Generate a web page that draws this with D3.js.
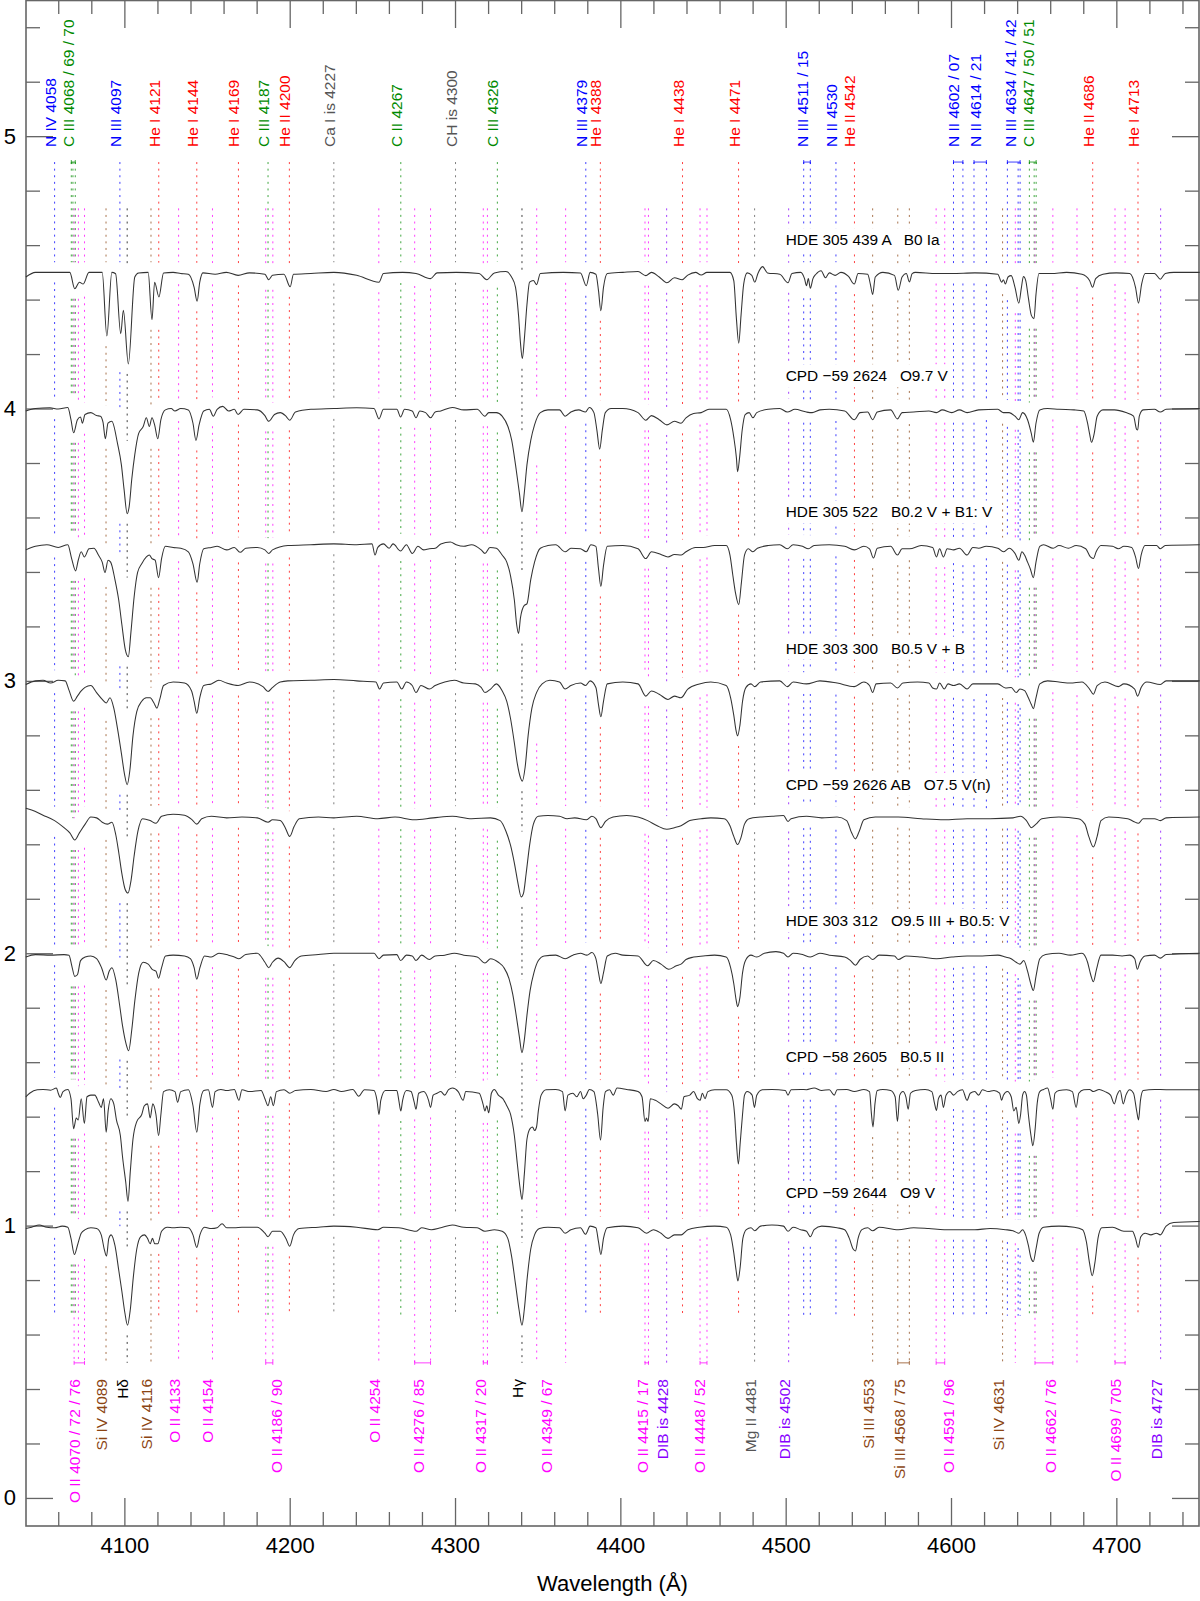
<!DOCTYPE html>
<html><head><meta charset="utf-8">
<script src="https://cdn.jsdelivr.net/npm/d3@7"></script>
<style>
body{margin:0;background:#fff}
svg{display:block}
text{font-family:"Liberation Sans",Arial,Helvetica,sans-serif}
</style>
</head><body>
<svg id="chart" width="1200" height="1601"></svg>
<script>
// ---------------- DATA ----------------
const starLabels = [
  "HDE 305 439 A   B0 Ia",
  "CPD \u221259 2624   O9.7 V",
  "HDE 305 522   B0.2 V + B1: V",
  "HDE 303 300   B0.5 V + B",
  "CPD \u221259 2626 AB   O7.5 V(n)",
  "HDE 303 312   O9.5 III + B0.5: V",
  "CPD \u221258 2605   B0.5 II",
  "CPD \u221259 2644   O9 V"
];
const offsets = [3.5, 3.0, 2.5, 2.0, 1.5, 1.0, 0.5, 0.0];

const spec1 = [[4040.4,0.983],[4046.2,1.0],[4060,1.0],[4067,1.0],[4070,0.94],[4072.8,0.964],[4075.1,0.957],[4078.6,1.0],[4086.6,1.0],[4089.4,0.766],[4092.4,1.0],[4094.7,0.995],[4097.8,0.775],[4099.4,0.861],[4102.4,0.664],[4106.3,0.983],[4108.6,0.998],[4114.4,1.0],[4116.7,0.826],[4118.3,0.964],[4120.9,0.91],[4123.7,0.998],[4129.5,1.0],[4134.1,0.996],[4138.7,0.993],[4142.2,0.945],[4144.0,0.894],[4145.6,0.964],[4147.5,0.998],[4154.9,0.993],[4161.7,1.0],[4168.8,0.989],[4175.7,0.998],[4185.0,0.993],[4187.3,0.973],[4189.6,0.989],[4196.5,0.993],[4200.3,0.947],[4202.3,0.993],[4212.8,0.996],[4226.7,1.0],[4240.5,0.989],[4254.0,0.964],[4256.7,0.996],[4268.3,1.0],[4276.4,0.996],[4285.2,0.977],[4289.1,0.998],[4300.7,1.0],[4314.6,0.996],[4319.2,0.973],[4323.8,0.998],[4330.8,1.003],[4334.2,0.983],[4336.6,0.945],[4338.4,0.843],[4339.6,0.74],[4340.7,0.683],[4341.9,0.753],[4343.5,0.881],[4345.1,0.964],[4347.4,0.970],[4349.3,0.955],[4351.6,0.996],[4365.5,1.0],[4375.9,0.998],[4379.4,0.951],[4381.7,1.0],[4385.2,0.993],[4386.8,0.932],[4388.2,0.859],[4389.8,0.945],[4392.1,0.996],[4401.5,1.0],[4410.7,1.003],[4415.4,0.988],[4418.8,1.0],[4423.5,0.983],[4428.1,0.962],[4432.7,0.98],[4437.4,0.973],[4440.8,0.99],[4445.5,1.0],[4448.9,0.99],[4452.4,1.0],[4466.3,1.0],[4468.6,0.97],[4470.2,0.83],[4471.6,0.74],[4473.0,0.842],[4474.6,0.957],[4476.7,0.998],[4479.5,0.989],[4481.3,0.964],[4483.2,0.996],[4486.0,1.021],[4489.0,0.998],[4496.4,0.993],[4501.4,0.962],[4503.8,0.996],[4509.1,1.0],[4511.4,0.977],[4512.6,0.951],[4513.7,0.977],[4514.9,0.942],[4516.5,0.977],[4518.3,0.993],[4521.4,1.006],[4524.1,0.98],[4526.4,0.998],[4529.9,0.989],[4533.4,1.0],[4538.0,0.985],[4541.5,0.957],[4543.8,0.996],[4549.6,0.993],[4551.2,0.957],[4552.6,0.919],[4554.2,0.983],[4558.8,1.0],[4565.8,0.989],[4568.1,0.934],[4570.4,0.983],[4573.0,0.996],[4574.8,0.965],[4576.5,0.995],[4578.5,1.0],[4591.2,0.996],[4600.5,0.996],[4614.4,0.998],[4628.3,0.993],[4630.6,0.964],[4631.7,0.973],[4632.9,0.957],[4634.5,0.983],[4636.4,0.988],[4638.7,0.945],[4641.0,0.887],[4642.6,0.945],[4643.8,0.985],[4645.2,0.97],[4646.8,0.906],[4648.6,0.842],[4650.2,0.830],[4651.4,0.919],[4653.2,0.996],[4660.7,0.996],[4669.9,1.0],[4679.2,0.993],[4683.8,0.97],[4685.6,0.945],[4687.5,0.977],[4691.9,0.993],[4700.0,0.998],[4708.1,0.996],[4711.6,0.945],[4713.4,0.887],[4715.3,0.957],[4717.4,0.996],[4723.1,0.996],[4726.6,0.975],[4729.6,0.996],[4734.7,1.0],[4750.4,1.0]];

const spec2 = [[4040.4,0.991],[4046.2,1.0],[4055,1.003],[4060,0.998],[4065.8,1.004],[4067.7,0.959],[4069.3,0.911],[4071.6,0.959],[4073.5,0.969],[4074.6,0.946],[4076.2,0.978],[4079.7,0.985],[4083.2,0.974],[4085.5,0.972],[4087.1,0.949],[4088.5,0.889],[4090.1,0.946],[4092.4,0.953],[4095.9,0.87],[4098.2,0.793],[4099.8,0.704],[4101.7,0.614],[4102.9,0.64],[4104.5,0.742],[4106.3,0.831],[4108.6,0.908],[4111.4,0.934],[4113.3,0.966],[4115.1,0.934],[4116.7,0.966],[4118.3,0.94],[4120.2,0.889],[4122.1,0.959],[4124.8,0.995],[4128.3,1.0],[4130.6,0.991],[4134.1,1.0],[4138.7,0.995],[4141.5,0.946],[4143.3,0.883],[4145.2,0.94],[4148.0,0.991],[4151.4,0.997],[4153.8,0.972],[4156.1,0.997],[4159.5,1.008],[4163.0,0.991],[4166.5,0.997],[4168.8,0.978],[4172.3,0.997],[4180.4,0.995],[4185.0,0.974],[4187.3,0.953],[4190.8,0.978],[4194.3,0.985],[4197.7,0.972],[4200.0,0.957],[4203.5,0.987],[4212.8,0.997],[4226.7,1.0],[4240.5,1.003],[4251.0,1.0],[4254.0,0.962],[4256.7,0.997],[4264.8,0.997],[4267.1,0.969],[4269.5,0.997],[4274.1,0.991],[4276.4,0.966],[4278.7,0.991],[4282.2,0.985],[4285.2,0.966],[4288.0,0.987],[4291.4,0.991],[4298.4,1.004],[4305.3,0.995],[4313.4,0.997],[4318.1,0.972],[4320.4,0.985],[4325.0,0.985],[4328.5,0.972],[4332.0,0.934],[4334.3,0.883],[4336.6,0.793],[4338.9,0.691],[4340.5,0.621],[4341.9,0.691],[4343.5,0.793],[4345.8,0.883],[4348.1,0.94],[4351.6,0.985],[4356.2,0.995],[4363.2,0.995],[4366.6,0.972],[4370.1,0.987],[4374.8,0.995],[4378.9,0.987],[4381.2,1.004],[4384.0,0.985],[4385.8,0.921],[4387.5,0.851],[4389.1,0.921],[4390.9,0.985],[4394.4,1.0],[4401.5,1.0],[4410.7,0.985],[4415.4,0.957],[4418.8,0.974],[4423.5,0.959],[4428.1,0.94],[4432.7,0.953],[4436.7,0.946],[4439.7,0.966],[4444.3,0.982],[4448.9,0.985],[4453.6,0.997],[4464.0,0.997],[4466.7,0.959],[4468.6,0.895],[4470.2,0.819],[4470.9,0.768],[4472.1,0.819],[4473.7,0.921],[4475.5,0.978],[4477.9,0.985],[4480.2,0.966],[4482.5,0.985],[4489.4,0.997],[4496.4,1.0],[4501.0,0.987],[4505.6,0.997],[4512.6,0.987],[4516.0,0.985],[4520.7,0.995],[4526.4,0.997],[4535.7,0.991],[4541.5,0.959],[4545.0,0.985],[4549.6,0.987],[4552.6,0.959],[4555.4,0.987],[4563.5,0.995],[4567.6,0.962],[4570.4,0.985],[4577.4,0.987],[4586.6,0.991],[4591.2,0.985],[4594.7,0.995],[4600.5,0.985],[4605.1,0.995],[4609.7,0.985],[4616.7,0.995],[4628.3,0.997],[4631.7,0.985],[4635.2,0.985],[4638.7,0.972],[4641.0,0.959],[4643.3,0.985],[4646.3,0.959],[4648.6,0.908],[4649.8,0.876],[4651.4,0.946],[4653.7,0.995],[4658.4,1.0],[4665.3,0.997],[4674.5,0.995],[4680.3,0.991],[4682.6,0.946],[4683.8,0.908],[4685.0,0.876],[4686.6,0.908],[4688.4,0.972],[4691.9,0.995],[4698.8,0.995],[4705.8,0.985],[4710.4,0.972],[4712.3,0.923],[4712.9,0.921],[4713.9,0.972],[4716.2,0.995],[4723.1,0.997],[4726.6,0.987],[4730.1,0.997],[4750.4,1.0]];

const spec3 = [[4040.4,0.981],[4046.2,0.994],[4053.1,1.0],[4060.0,0.99],[4065.8,1.0],[4068.1,0.949],[4070.5,0.904],[4072.1,0.943],[4073.9,0.974],[4075.8,0.955],[4078.6,0.985],[4081.6,0.987],[4084.3,0.962],[4086.6,0.936],[4088.3,0.898],[4090.1,0.943],[4091.7,0.936],[4094.3,0.872],[4096.6,0.796],[4098.5,0.706],[4100.5,0.617],[4102.4,0.589],[4104.0,0.681],[4105.9,0.808],[4108.0,0.898],[4110.5,0.93],[4113.3,0.955],[4115.1,0.962],[4116.7,0.949],[4118.6,0.943],[4120.7,0.879],[4122.5,0.949],[4124.8,0.994],[4129.5,0.99],[4134.1,0.987],[4138.7,0.974],[4141.5,0.93],[4144.0,0.862],[4145.6,0.93],[4148.0,0.985],[4152.6,0.99],[4156.1,0.994],[4161.9,0.981],[4166.5,0.99],[4170.0,0.972],[4173.4,0.987],[4180.4,0.99],[4185.0,0.981],[4187.3,0.968],[4189.6,0.981],[4198.9,0.997],[4212.8,1.0],[4226.7,1.003],[4240.5,1.0],[4249.8,1.003],[4251.6,0.962],[4253.3,0.99],[4256.7,1.003],[4260.2,0.987],[4262.5,1.003],[4267.1,0.977],[4270.6,1.0],[4274.1,0.968],[4277.6,0.994],[4281.0,0.981],[4284.5,0.985],[4288.0,0.987],[4291.4,1.003],[4297.2,1.01],[4300.7,1.0],[4305.3,0.994],[4310.0,1.0],[4315.8,0.981],[4318.1,0.968],[4321.1,0.99],[4325.0,0.987],[4328.5,0.962],[4331.3,0.936],[4333.6,0.885],[4335.9,0.796],[4337.3,0.706],[4338.4,0.674],[4339.6,0.732],[4341.9,0.777],[4343.5,0.783],[4345.8,0.872],[4348.1,0.936],[4351.6,0.987],[4356.2,0.997],[4360.9,1.0],[4366.6,0.974],[4370.1,0.987],[4375.9,0.985],[4379.4,0.974],[4382.2,1.0],[4385.2,0.994],[4386.8,0.911],[4388.2,0.847],[4389.8,0.923],[4392.1,0.994],[4401.5,0.997],[4410.7,0.985],[4415.4,0.949],[4418.8,0.974],[4424.6,0.964],[4428.8,0.955],[4432.7,0.964],[4436.9,0.962],[4439.7,0.974],[4445.5,0.99],[4450.1,0.99],[4457.0,0.997],[4464.0,0.997],[4466.3,0.962],[4468.1,0.885],[4469.7,0.821],[4471.6,0.78],[4473.2,0.86],[4475.1,0.962],[4477.4,0.985],[4480.2,0.974],[4482.9,0.987],[4489.4,0.997],[4496.4,1.0],[4501.0,0.985],[4504.5,1.0],[4510.2,0.994],[4513.7,0.985],[4517.2,0.997],[4526.4,1.0],[4535.7,0.994],[4541.5,0.981],[4547.3,0.994],[4550.7,0.985],[4553.1,0.951],[4555.4,0.987],[4563.5,0.994],[4567.6,0.962],[4570.4,0.985],[4575.0,0.985],[4582.0,0.997],[4588.9,0.99],[4591.2,0.955],[4593.1,0.985],[4595.4,0.955],[4597.7,0.985],[4601.6,0.981],[4605.1,0.987],[4609.7,0.962],[4613.2,0.99],[4616.7,0.987],[4621.3,0.994],[4628.3,0.987],[4631.7,0.974],[4635.2,0.987],[4638.7,0.968],[4641.0,0.943],[4642.9,0.974],[4644.5,0.962],[4646.3,0.936],[4648.0,0.911],[4649.8,0.879],[4651.4,0.936],[4653.7,0.994],[4656.0,1.0],[4661.8,0.987],[4665.3,0.997],[4671.0,0.987],[4675.7,0.997],[4681.5,0.985],[4684.3,0.955],[4686.1,0.949],[4687.8,0.974],[4690.7,0.997],[4697.7,0.994],[4701.2,0.985],[4704.6,0.994],[4709.3,0.99],[4711.6,0.955],[4713.4,0.913],[4715.0,0.962],[4717.4,0.997],[4724.3,0.997],[4726.6,0.985],[4729.6,0.997],[4750.4,1.0]];

const spec4 = [[4040.4,0.987],[4046.2,1.0],[4050.8,1.002],[4055.4,0.992],[4060.0,1.002],[4064.2,1.0],[4066.5,0.966],[4069.3,0.925],[4071.6,0.944],[4073.9,0.963],[4076.2,0.976],[4079.7,0.983],[4083.2,0.957],[4086.6,0.932],[4089.0,0.919],[4091.3,0.938],[4093.6,0.9],[4095.9,0.823],[4098.2,0.734],[4100.1,0.657],[4101.7,0.619],[4103.3,0.67],[4105.2,0.798],[4107.5,0.887],[4110.5,0.925],[4113.3,0.938],[4115.6,0.938],[4117.9,0.919],[4119.7,0.9],[4121.4,0.932],[4123.7,0.983],[4129.5,0.996],[4136.4,0.992],[4140.6,0.964],[4142.2,0.925],[4143.8,0.881],[4145.6,0.938],[4148.0,0.983],[4152.6,0.989],[4157.2,1.002],[4161.9,0.992],[4168.8,0.983],[4175.7,0.996],[4183.8,0.979],[4186.9,0.961],[4189.6,0.976],[4194.3,0.996],[4198.9,1.0],[4212.8,1.002],[4226.7,1.005],[4240.5,1.0],[4252.1,0.996],[4254.4,0.97],[4256.7,0.992],[4264.8,0.996],[4267.8,0.97],[4270.6,0.996],[4274.1,0.983],[4276.4,0.957],[4279.4,0.983],[4284.5,0.97],[4288.0,0.983],[4293.8,0.996],[4299.6,1.002],[4305.3,0.992],[4312.3,0.989],[4315.8,0.976],[4318.1,0.957],[4321.5,0.97],[4325.0,0.989],[4328.5,0.964],[4331.3,0.925],[4333.6,0.861],[4335.9,0.772],[4337.7,0.695],[4339.6,0.644],[4340.7,0.632],[4342.4,0.683],[4344.2,0.798],[4346.5,0.9],[4349.3,0.957],[4352.7,0.989],[4357.4,1.002],[4363.2,0.996],[4366.6,0.97],[4370.1,0.983],[4375.9,0.992],[4378.9,0.983],[4381.7,1.0],[4385.2,0.976],[4386.8,0.912],[4388.2,0.868],[4389.8,0.925],[4392.1,0.989],[4401.5,0.996],[4410.7,0.989],[4415.4,0.944],[4418.8,0.963],[4423.5,0.951],[4428.8,0.932],[4432.7,0.944],[4436.7,0.938],[4440.8,0.97],[4447.8,0.989],[4454.7,0.996],[4464.0,0.983],[4466.7,0.938],[4468.6,0.874],[4470.0,0.817],[4470.9,0.798],[4472.3,0.836],[4473.9,0.925],[4476.0,0.976],[4479.0,0.989],[4481.3,0.979],[4484.8,0.996],[4496.4,1.0],[4501.0,0.979],[4504.5,0.996],[4512.6,0.989],[4520.7,1.0],[4531.1,0.992],[4541.5,0.979],[4547.3,0.996],[4550.7,0.983],[4552.6,0.957],[4554.7,0.989],[4563.5,0.992],[4567.6,0.974],[4570.9,0.992],[4579.7,0.996],[4586.6,0.992],[4588.9,0.974],[4591.2,0.97],[4593.1,0.992],[4595.9,0.97],[4598.2,0.989],[4601.6,0.983],[4605.1,0.989],[4609.7,0.97],[4613.2,0.989],[4619.0,0.989],[4628.3,0.989],[4632.9,0.974],[4636.4,0.976],[4639.4,0.957],[4641.7,0.97],[4644.5,0.964],[4646.8,0.938],[4648.6,0.913],[4649.8,0.898],[4651.4,0.938],[4653.7,0.989],[4658.4,1.0],[4665.3,0.996],[4672.2,0.992],[4679.2,0.996],[4683.8,0.97],[4686.1,0.951],[4688.4,0.983],[4693.1,0.996],[4701.2,0.979],[4704.6,0.989],[4711.1,0.97],[4712.9,0.944],[4715.0,0.976],[4718.5,0.996],[4726.6,0.987],[4730.1,1.0],[4750.4,1.0]];

const spec5 = [[4040.4,1.032],[4043.9,1.026],[4050.8,1.007],[4057.8,0.987],[4063.5,0.961],[4067.0,0.942],[4070.0,0.916],[4072.8,0.942],[4076.3,0.974],[4079.7,1.0],[4083.2,0.997],[4086.6,0.981],[4089.7,0.974],[4092.5,0.981],[4094.8,0.935],[4096.6,0.87],[4098.5,0.792],[4100.5,0.734],[4102.2,0.721],[4104.0,0.766],[4105.9,0.857],[4108.2,0.948],[4111.0,0.994],[4115.6,0.987],[4119.1,0.977],[4122.5,1.003],[4129.5,1.01],[4136.4,1.007],[4141.0,0.99],[4143.8,0.974],[4146.8,0.994],[4152.6,1.003],[4161.9,0.997],[4171.1,1.0],[4180.4,0.997],[4186.9,0.981],[4189.6,0.99],[4194.3,0.987],[4197.3,0.961],[4200.0,0.929],[4202.6,0.964],[4205.8,0.994],[4217.4,1.0],[4226.7,0.997],[4240.5,1.003],[4253.3,0.994],[4263.7,1.0],[4275.3,0.99],[4286.8,0.997],[4298.4,1.003],[4310.0,0.994],[4321.5,0.997],[4327.3,0.987],[4330.8,0.948],[4333.6,0.896],[4335.9,0.831],[4338.2,0.753],[4340.0,0.707],[4341.4,0.72],[4343.0,0.792],[4345.1,0.896],[4347.4,0.974],[4350.4,1.003],[4356.2,1.006],[4363.2,1.003],[4367.8,0.994],[4372.4,0.997],[4379.4,0.99],[4382.8,1.003],[4385.2,0.994],[4388.2,0.961],[4391.0,0.984],[4395.6,1.0],[4403.8,1.006],[4410.7,1.0],[4416.5,0.987],[4422.3,0.968],[4428.1,0.955],[4432.7,0.961],[4436.7,0.968],[4442.0,0.987],[4448.9,0.994],[4454.7,0.997],[4462.8,0.994],[4466.3,0.968],[4468.6,0.929],[4470.9,0.899],[4472.8,0.922],[4475.1,0.974],[4477.9,0.994],[4484.8,1.0],[4491.7,1.003],[4498.7,1.006],[4501.4,0.984],[4503.3,0.994],[4512.6,1.003],[4521.8,0.997],[4531.1,1.0],[4536.9,0.987],[4539.9,0.942],[4542.2,0.92],[4544.5,0.948],[4547.3,0.99],[4554.2,1.0],[4568.1,1.0],[4582.0,0.994],[4595.9,0.99],[4609.7,0.994],[4623.6,0.994],[4637.5,0.997],[4642.1,1.003],[4645.6,0.987],[4648.6,0.961],[4651.4,0.974],[4654.9,0.994],[4665.3,1.0],[4676.9,0.994],[4681.0,0.974],[4683.3,0.929],[4686.1,0.89],[4688.4,0.929],[4690.7,0.987],[4695.4,1.0],[4706.9,0.994],[4710.4,0.984],[4713.4,0.977],[4716.2,0.994],[4723.1,0.994],[4726.6,0.987],[4730.1,0.997],[4750.4,1.0]];

const spec6 = [[4040.4,0.986],[4046.2,0.995],[4055.4,0.993],[4063.5,0.995],[4066.5,0.993],[4068.2,0.954],[4070.0,0.915],[4071.6,0.921],[4073.5,0.973],[4076.3,0.986],[4079.7,0.99],[4083.2,0.98],[4086.2,0.947],[4089.0,0.902],[4090.8,0.934],[4092.5,0.947],[4094.8,0.902],[4097.1,0.811],[4098.9,0.733],[4101.0,0.668],[4102.6,0.642],[4104.5,0.72],[4106.3,0.824],[4108.7,0.928],[4111.4,0.967],[4114.4,0.96],[4116.8,0.941],[4119.1,0.934],[4120.7,0.908],[4122.5,0.947],[4124.9,0.99],[4129.5,0.993],[4136.4,0.99],[4139.9,0.98],[4142.2,0.947],[4143.8,0.905],[4145.7,0.947],[4148.5,0.99],[4152.6,0.986],[4157.2,1.0],[4163.0,0.993],[4166.5,0.986],[4169.3,0.98],[4173.4,0.995],[4180.4,1.0],[4185.0,0.967],[4187.3,0.947],[4189.6,0.967],[4193.1,0.982],[4196.6,0.969],[4200.0,0.947],[4203.1,0.973],[4207.0,0.99],[4217.4,0.995],[4226.7,1.0],[4240.5,1.0],[4251.0,1.0],[4254.0,0.98],[4256.7,0.993],[4264.8,0.995],[4267.1,0.973],[4270.6,0.993],[4274.1,0.99],[4276.4,0.973],[4279.8,0.993],[4284.5,0.977],[4288.0,0.99],[4293.8,0.993],[4299.6,1.0],[4305.3,0.993],[4313.4,0.986],[4318.1,0.964],[4321.5,0.98],[4326.2,0.967],[4329.6,0.947],[4332.6,0.908],[4334.9,0.85],[4337.0,0.772],[4338.9,0.694],[4340.5,0.635],[4341.9,0.681],[4343.5,0.772],[4345.4,0.863],[4347.7,0.928],[4350.4,0.973],[4353.9,0.99],[4360.9,0.993],[4366.6,0.98],[4371.3,0.993],[4375.9,1.0],[4379.8,0.993],[4382.8,1.003],[4385.2,0.98],[4386.8,0.928],[4388.2,0.889],[4389.8,0.928],[4392.1,0.99],[4396.9,1.0],[4401.5,0.993],[4410.7,0.99],[4416.5,0.954],[4420.0,0.973],[4424.6,0.96],[4429.2,0.941],[4433.9,0.954],[4436.7,0.96],[4439.7,0.977],[4444.3,0.986],[4450.1,0.99],[4457.0,0.993],[4464.0,0.986],[4466.7,0.947],[4468.6,0.889],[4470.0,0.83],[4470.9,0.804],[4472.3,0.837],[4473.9,0.928],[4476.0,0.977],[4479.0,0.993],[4482.5,0.986],[4487.1,1.0],[4494.1,1.006],[4498.7,1.0],[4501.4,0.986],[4504.5,1.0],[4510.2,0.995],[4514.9,0.986],[4520.7,1.0],[4526.4,0.993],[4535.7,0.986],[4539.2,0.973],[4542.2,0.956],[4545.0,0.977],[4549.6,0.99],[4552.6,0.977],[4556.5,0.993],[4565.8,0.99],[4568.1,0.977],[4572.7,0.99],[4582.0,0.986],[4591.2,0.98],[4600.5,0.986],[4609.7,0.99],[4619.0,0.99],[4628.3,0.993],[4632.9,0.986],[4636.4,0.98],[4639.4,0.967],[4641.7,0.96],[4644.0,0.973],[4646.3,0.934],[4648.2,0.889],[4649.8,0.863],[4651.4,0.915],[4653.7,0.98],[4657.2,0.995],[4665.3,1.0],[4672.2,0.993],[4679.2,1.0],[4682.6,0.967],[4684.5,0.921],[4686.1,0.895],[4688.0,0.941],[4690.7,0.993],[4697.7,0.993],[4703.5,0.99],[4708.1,0.993],[4711.1,0.98],[4712.7,0.941],[4714.3,0.967],[4717.4,0.99],[4723.1,0.993],[4726.6,0.982],[4730.1,0.995],[4750.4,1.0]];

const spec7 = [[4040.4,0.973],[4042.7,0.986],[4047.3,0.999],[4050.8,1.0],[4055.4,0.997],[4058.9,1.005],[4060.0,0.986],[4061.2,0.97],[4062.9,0.992],[4065.8,1.0],[4067.7,0.966],[4069.3,0.856],[4070.9,0.895],[4072.1,0.888],[4073.9,0.966],[4075.8,0.875],[4077.4,0.973],[4079.7,0.979],[4082.1,0.979],[4084.4,0.953],[4086.0,0.934],[4087.4,0.966],[4089.0,0.843],[4090.2,0.922],[4091.8,0.966],[4093.6,0.947],[4095.2,0.888],[4097.6,0.83],[4098.9,0.752],[4100.8,0.661],[4102.2,0.589],[4103.6,0.7],[4105.2,0.817],[4107.5,0.882],[4110.5,0.908],[4112.1,0.94],[4114.0,0.947],[4115.6,0.895],[4117.2,0.947],[4119.1,0.908],[4120.7,0.83],[4122.1,0.908],[4123.7,0.992],[4127.2,0.999],[4130.6,0.992],[4132.2,0.953],[4134.1,0.992],[4138.7,0.999],[4141.5,0.94],[4143.8,0.843],[4145.7,0.947],[4148.0,0.996],[4150.8,0.999],[4153.3,0.934],[4154.9,0.992],[4158.4,1.0],[4161.9,0.996],[4166.5,1.0],[4169.3,0.96],[4171.1,0.999],[4175.8,0.992],[4182.7,0.996],[4185.0,0.966],[4186.9,0.94],[4188.5,0.973],[4190.1,0.94],[4192.0,0.992],[4196.6,0.999],[4200.0,0.986],[4203.5,0.996],[4212.8,1.0],[4222.0,0.992],[4226.7,1.0],[4231.3,0.992],[4238.2,1.0],[4241.7,0.975],[4245.2,0.999],[4251.0,0.996],[4252.8,0.96],[4254.0,0.908],[4255.1,0.96],[4257.9,0.996],[4264.8,0.996],[4266.0,0.96],[4267.2,0.921],[4268.3,0.96],[4270.6,0.996],[4273.4,0.992],[4275.3,0.953],[4276.4,0.927],[4278.0,0.986],[4281.0,0.992],[4284.0,0.96],[4285.2,0.934],[4286.8,0.979],[4289.1,0.986],[4291.4,0.992],[4293.8,0.979],[4296.1,0.999],[4298.4,1.005],[4301.9,0.992],[4304.9,0.96],[4306.5,0.992],[4314.6,0.986],[4316.9,0.947],[4318.1,0.921],[4319.2,0.94],[4320.4,0.914],[4322.0,0.986],[4323.8,1.0],[4326.2,0.979],[4328.9,0.966],[4331.3,0.94],[4333.6,0.908],[4335.9,0.83],[4337.7,0.726],[4339.4,0.635],[4340.5,0.596],[4341.9,0.687],[4343.5,0.817],[4345.4,0.856],[4346.9,0.862],[4348.1,0.849],[4349.3,0.862],[4350.4,0.921],[4352.1,0.979],[4355.1,0.999],[4360.9,1.0],[4365.0,0.992],[4366.6,0.921],[4368.3,0.979],[4371.3,0.986],[4373.6,0.973],[4375.9,0.992],[4377.5,0.966],[4379.4,0.979],[4381.2,1.0],[4384.0,0.992],[4386.3,0.908],[4388.0,0.814],[4389.6,0.934],[4391.0,0.992],[4393.5,0.999],[4395.7,0.979],[4398.0,1.005],[4403.8,1.0],[4410.7,0.992],[4413.1,0.973],[4414.9,0.882],[4415.8,0.895],[4416.8,0.882],[4418.1,0.966],[4421.2,0.96],[4424.6,0.947],[4428.8,0.931],[4432.7,0.947],[4435.0,0.94],[4436.9,0.927],[4438.5,0.973],[4442.0,0.979],[4444.3,0.992],[4446.6,0.966],[4448.2,0.96],[4449.6,0.986],[4451.2,0.966],[4452.9,0.992],[4457.0,0.999],[4464.0,0.999],[4467.4,0.979],[4469.1,0.908],[4470.2,0.804],[4471.4,0.726],[4472.5,0.804],[4473.9,0.908],[4475.1,0.979],[4476.7,0.992],[4479.7,0.979],[4481.1,0.934],[4482.5,0.979],[4485.9,0.999],[4491.7,1.0],[4499.8,0.996],[4501.4,0.979],[4503.3,0.999],[4509.1,1.0],[4512.6,0.999],[4517.2,1.005],[4521.8,0.996],[4526.4,0.999],[4529.4,0.979],[4531.1,0.999],[4536.9,1.0],[4541.5,0.992],[4547.3,1.0],[4550.7,0.992],[4551.9,0.908],[4552.8,0.862],[4554.0,0.947],[4555.4,0.996],[4558.8,1.0],[4563.5,0.996],[4566.2,0.973],[4567.6,0.882],[4569.0,0.979],[4570.9,0.992],[4572.7,0.973],[4574.1,0.927],[4575.5,0.986],[4578.5,0.996],[4584.3,1.0],[4588.4,0.992],[4590.1,0.947],[4591.2,0.923],[4592.4,0.966],[4594.0,0.979],[4595.4,0.934],[4597.0,0.979],[4599.3,0.992],[4601.6,0.979],[4603.9,0.992],[4606.9,0.999],[4609.7,0.96],[4611.6,0.986],[4614.4,0.992],[4616.7,0.979],[4619.0,0.999],[4622.5,0.992],[4626.0,0.996],[4629.4,0.986],[4630.6,0.96],[4631.7,0.979],[4634.1,0.992],[4636.4,0.973],[4638.0,0.921],[4639.4,0.934],[4641.0,0.875],[4642.1,0.908],[4643.3,0.979],[4644.5,0.992],[4645.6,0.979],[4646.8,0.908],[4648.4,0.83],[4649.5,0.793],[4650.9,0.856],[4652.1,0.947],[4653.7,0.992],[4656.0,1.0],[4658.4,1.005],[4660.2,0.966],[4661.6,0.927],[4662.9,0.986],[4665.3,0.996],[4669.9,0.999],[4673.4,0.992],[4675.7,0.934],[4677.3,0.986],[4680.3,0.999],[4683.8,1.0],[4686.1,0.992],[4689.6,1.0],[4693.1,0.992],[4696.5,0.979],[4698.8,0.947],[4700.4,0.979],[4702.3,0.996],[4704.2,0.947],[4705.8,0.979],[4708.1,0.999],[4710.4,0.986],[4712.3,0.921],[4713.4,0.888],[4714.6,0.96],[4716.2,0.996],[4723.1,1.0],[4730.1,0.999],[4750.4,0.999]];

const spec8 = [[4040.4,0.989],[4043.9,0.994],[4048.5,1.002],[4053.1,0.994],[4057.8,0.992],[4062.4,0.998],[4065.8,0.994],[4067.7,0.953],[4069.8,0.894],[4071.6,0.927],[4073.9,0.972],[4076.3,0.985],[4079.7,0.992],[4083.2,0.989],[4086.0,0.966],[4087.8,0.914],[4089.2,0.888],[4090.6,0.953],[4092.0,0.966],[4094.3,0.927],[4096.6,0.836],[4098.5,0.758],[4100.3,0.68],[4101.9,0.634],[4103.6,0.692],[4105.4,0.81],[4107.5,0.914],[4109.8,0.959],[4112.1,0.966],[4114.0,0.953],[4115.6,0.933],[4117.0,0.953],[4118.4,0.933],[4120.2,0.933],[4122.5,0.979],[4126.0,0.994],[4129.5,0.992],[4134.1,0.994],[4138.7,0.992],[4141.5,0.966],[4143.8,0.92],[4145.7,0.966],[4148.5,0.994],[4152.6,0.989],[4156.1,0.992],[4159.1,1.007],[4161.9,0.992],[4166.5,0.992],[4171.1,0.994],[4180.4,0.994],[4185.0,0.972],[4186.9,0.959],[4189.6,0.979],[4194.3,0.979],[4197.7,0.953],[4200.0,0.924],[4202.3,0.966],[4205.8,0.989],[4217.4,0.994],[4226.7,0.998],[4240.5,0.994],[4253.3,0.985],[4256.7,0.994],[4266.0,0.992],[4276.4,0.979],[4279.8,0.992],[4285.7,0.985],[4291.4,0.992],[4298.4,1.002],[4305.3,0.994],[4313.4,0.992],[4318.1,0.979],[4323.8,0.985],[4328.5,0.979],[4331.9,0.953],[4334.2,0.888],[4336.6,0.784],[4338.7,0.692],[4340.5,0.634],[4341.9,0.692],[4343.7,0.81],[4345.8,0.914],[4348.1,0.966],[4351.1,0.989],[4356.2,0.994],[4363.2,0.992],[4366.6,0.972],[4370.1,0.985],[4375.9,0.992],[4378.9,0.968],[4381.7,0.998],[4385.2,0.992],[4386.8,0.94],[4388.2,0.894],[4389.8,0.953],[4392.1,0.992],[4401.5,0.998],[4410.7,0.992],[4415.8,0.972],[4420.0,0.985],[4424.6,0.972],[4428.8,0.953],[4432.7,0.966],[4436.9,0.966],[4440.8,0.985],[4447.8,0.994],[4457.0,0.998],[4464.0,0.994],[4466.7,0.966],[4468.6,0.901],[4470.0,0.836],[4471.1,0.797],[4472.5,0.849],[4474.1,0.953],[4476.2,0.985],[4479.0,0.992],[4481.3,0.981],[4484.8,0.998],[4491.7,1.002],[4498.7,0.998],[4501.4,0.979],[4504.5,0.994],[4509.1,0.985],[4512.6,0.979],[4514.9,0.959],[4517.2,0.985],[4521.8,0.998],[4531.1,0.992],[4535.7,0.985],[4538.5,0.953],[4540.8,0.914],[4542.2,0.907],[4543.8,0.953],[4546.1,0.985],[4549.6,0.992],[4552.6,0.981],[4556.5,0.994],[4568.1,0.985],[4577.4,0.992],[4586.6,0.989],[4595.9,0.985],[4605.1,0.985],[4614.4,0.985],[4623.6,0.989],[4632.9,0.985],[4637.5,0.981],[4641.0,0.972],[4643.3,0.985],[4645.1,0.966],[4646.8,0.927],[4648.4,0.881],[4649.8,0.868],[4651.4,0.914],[4653.3,0.972],[4656.0,0.994],[4665.3,0.998],[4674.5,0.994],[4679.6,0.985],[4681.9,0.94],[4683.8,0.862],[4685.4,0.816],[4687.0,0.862],[4688.9,0.953],[4691.2,0.992],[4697.7,0.994],[4704.6,0.979],[4709.7,0.979],[4711.6,0.953],[4713.2,0.92],[4714.8,0.959],[4717.4,0.972],[4720.9,0.966],[4724.3,0.972],[4726.6,0.966],[4730.1,0.998],[4734.7,1.011],[4750.4,1.015]];

const spectra = [spec1, spec2, spec3, spec4, spec5, spec6, spec7, spec8];

// Line identifications (upper group: labels on top; lower group: labels at bottom)
const topLineLabels = ["N IV 4058","C III 4068 / 69 / 70","N III 4097","He I 4121","He I 4144","He I 4169","C III 4187","He II 4200","Ca I is 4227","C II 4267","CH is 4300","C III 4326","N III 4379","He I 4388","He I 4438","He I 4471","N III 4511 / 15","N II 4530","He II 4542","N II 4602 / 07","N II 4614 / 21","N III 4634 / 41 / 42","C III 4647 / 50 / 51","He II 4686","He I 4713"];
const topLineWaves = [[4057.8],[4067.9,4068.9,4070.3],[4097.3],[4120.8],[4143.8],[4169.0],[4186.9],[4199.8],[4226.7],[4267.2],[4300.3],[4325.6],[4379.1],[4387.9],[4437.6],[4471.5],[4510.9,4514.9],[4530.4],[4541.6],[4601.5,4607.2],[4613.9,4621.4],[4634.1,4640.6,4641.8],[4647.4,4650.3,4651.5],[4685.7],[4713.1]];
const topLineKinds = ["N","C","N","He","He","He","C","He","is","C","is","C","N","He","He","He","N","N","He","N","N","N","C","He","He"];

const botLineLabels = ["O II 4070 / 72 / 76","Si IV 4089","H\u03b4","Si IV 4116","O II 4133","O II 4154","O II 4186 / 90","O II 4254","O II 4276 / 85","O II 4317 / 20","H\u03b3","O II 4349 / 67","O II 4415 / 17","DIB is 4428","O II 4448 / 52","Mg II 4481","DIB is 4502","Si III 4553","Si III 4568 / 75","O II 4591 / 96","Si IV 4631","","O II 4662 / 76","O II 4699 / 705","DIB is 4727"];
const botLineWaves = [[4069.6,4072.2,4075.9],[4088.9],[4101.7],[4116.1],[4132.8],[4153.3],[4185.5,4189.8],[4253.9],[4275.6,4285.2],[4317.1,4319.6],[4340.5],[4349.4,4366.9],[4414.9,4417.0],[4428.0],[4448.2,4452.4],[4481.2],[4501.8],[4552.6],[4567.8,4574.8],[4591.0,4596.2],[4631.2],[4638.9],[4650.8,4661.6,4676.2],[4699.2,4705.3],[4726.8]];
const botLineKinds = ["O","Si","H","Si","O","O","O","O","O","O","H","O","O","DIB","O","is","DIB","Si","Si","O","Si","O","O","O","DIB"];
const botBars = [[4069.6,4075.9],null,null,null,null,null,[4185.5,4189.8],null,[4275.6,4285.2],[4317.1,4319.6],null,null,[4414.9,4417.0],null,[4448.2,4452.4],null,null,null,[4567.8,4574.8],[4591.0,4596.2],null,null,[4650.8,4661.6],[4699.2,4705.3],null];
const botLabelAt = [null,null,null,null,null,null,4194.5,null,null,null,null,null,null,null,null,null,null,null,null,4601.5,null,null,null,null,null];

const xTickValues = [4100,4200,4300,4400,4500,4600,4700];
const yTickValues = [0,1,2,3,4,5];

// ---------------- DRAWING ----------------
const kindColor = {N:"#0000ff", C:"#008a00", He:"#ff0000", is:"#555555", O:"#ff00ff", Si:"#8b4513", H:"#000000", DIB:"#8800ff"};

const L = 26, R = 1199, T = 0, B = 1526;
const svg = d3.select("#chart");
const x = d3.scaleLinear().domain([4040.5, 4750]).range([L, R]);
const y = d3.scaleLinear().domain([-0.103, 5.5]).range([B, T]);

const axisColor = "#666";

function interp(s, w){
  if (w <= s[0][0]) return s[0][1];
  if (w >= s[s.length-1][0]) return s[s.length-1][1];
  const i = d3.bisector(d => d[0]).left(s, w);
  const a = s[i-1], b = s[i];
  return a[1] + (b[1]-a[1]) * (w-a[0])/(b[0]-a[0]);
}
const WIN = 5, PADLO = 0.037, PADHI = 0.037;
function segmentsFor(w, top, bot){
  const ex = spectra.map((s,i) => {
    const vals = s.filter(p => Math.abs(p[0]-w) <= WIN).map(p => p[1]);
    vals.push(interp(s, w-WIN), interp(s, w+WIN), interp(s, w));
    return [d3.min(vals)+offsets[i]-PADLO, d3.max(vals)+offsets[i]+PADHI];
  }).sort((a,b) => b[1]-a[1]);
  const segs = []; let cur = top;
  ex.forEach(([lo,hi]) => {
    if (hi < cur) segs.push([cur, Math.max(hi, bot)]);
    cur = Math.min(cur, lo);
  });
  if (cur > bot) segs.push([cur, bot]);
  return segs.filter(s => s[0] > s[1]);
}

// frame and axes
const gAxes = svg.append("g");
const minorX = d3.range(4060, 4750, 20).filter(v => v % 100 !== 0);
const minorY = d3.range(0, 5.5, 0.2).map(v => +v.toFixed(1)).filter(v => Math.abs(v - Math.round(v)) > 1e-6);

function styleAxis(g){
  g.selectAll(".domain").remove();
  g.selectAll(".tick line").attr("stroke", axisColor).attr("stroke-width", 1.3);
}
gAxes.append("g").attr("transform", `translate(0,${B})`)
  .call(d3.axisBottom(x).tickValues(xTickValues).tickSize(-28).tickPadding(11).tickFormat(d3.format("d")))
  .call(styleAxis)
  .call(g => g.selectAll("text").attr("font-size", 22).attr("fill", "#000").attr("font-family", "Liberation Sans, Arial, sans-serif"));
gAxes.append("g").attr("transform", `translate(0,${B})`)
  .call(d3.axisBottom(x).tickValues(minorX).tickSize(-14).tickFormat(""))
  .call(styleAxis);
gAxes.append("g").attr("transform", `translate(0,${T})`)
  .call(d3.axisTop(x).tickValues(xTickValues).tickSize(-28).tickFormat(""))
  .call(styleAxis);
gAxes.append("g").attr("transform", `translate(0,${T})`)
  .call(d3.axisTop(x).tickValues(minorX).tickSize(-14).tickFormat(""))
  .call(styleAxis);
gAxes.append("g").attr("transform", `translate(${L},0)`)
  .call(d3.axisLeft(y).tickValues(yTickValues).tickSize(-27).tickPadding(10).tickFormat(d3.format("d")))
  .call(styleAxis)
  .call(g => g.selectAll("text").attr("font-size", 22).attr("fill", "#000").attr("font-family", "Liberation Sans, Arial, sans-serif"));
gAxes.append("g").attr("transform", `translate(${L},0)`)
  .call(d3.axisLeft(y).tickValues(minorY).tickSize(-14).tickFormat(""))
  .call(styleAxis);
gAxes.append("g").attr("transform", `translate(${R},0)`)
  .call(d3.axisRight(y).tickValues(yTickValues).tickSize(-27).tickFormat(""))
  .call(styleAxis);
gAxes.append("g").attr("transform", `translate(${R},0)`)
  .call(d3.axisRight(y).tickValues(minorY).tickSize(-14).tickFormat(""))
  .call(styleAxis);
gAxes.append("rect").attr("x", L).attr("y", T + 0.5).attr("width", R - L).attr("height", B - T - 0.5)
  .attr("fill", "none").attr("stroke", axisColor).attr("stroke-width", 1.6);

svg.append("text").attr("x", (L + R) / 2).attr("y", 1591).attr("text-anchor", "middle")
  .attr("font-size", 22).attr("fill", "#000").text("Wavelength (\u00c5)");

// ---- line identification markers ----
const gMarks = svg.append("g");
const TOP_HI = 4.905, TOP_LO = 0.669, BOT_HI = 4.735, BOT_LO = 0.496;
function drawMarker(w, color, hi, lo){
  segmentsFor(w, hi, lo).forEach(([a,b]) => {
    gMarks.append("line")
      .attr("x1", x(w)).attr("x2", x(w)).attr("y1", y(a)).attr("y2", y(b))
      .attr("stroke", color).attr("stroke-width", 1).attr("stroke-dasharray", "2,4.6").attr("opacity", 0.75);
  });
}
function drawBar(w1, w2, yv, color){
  gMarks.append("line").attr("x1", x(w1)).attr("x2", x(w2)).attr("y1", y(yv)).attr("y2", y(yv))
    .attr("stroke", color).attr("stroke-width", 1).attr("opacity", 0.75);
  [w1, w2].forEach(w => gMarks.append("line").attr("x1", x(w)).attr("x2", x(w))
    .attr("y1", y(yv) - 2).attr("y2", y(yv) + 2).attr("stroke", color).attr("stroke-width", 1).attr("opacity", 0.75));
}
topLineWaves.forEach((ws, i) => {
  const c = kindColor[topLineKinds[i]];
  ws.forEach(w => drawMarker(w, c, TOP_HI, TOP_LO));
  if (ws.length > 1) drawBar(ws[0], ws[ws.length-1], TOP_HI, c);
});
botLineWaves.forEach((ws, i) => {
  const c = kindColor[botLineKinds[i]];
  ws.forEach(w => drawMarker(w, c, BOT_HI, BOT_LO));
  if (botBars[i]) drawBar(botBars[i][0], botBars[i][1], BOT_LO, c);
});

// ---- star labels with white boxes ----
const gStar = svg.append("g");
starLabels.forEach((lab, i) => {
  const t = gStar.append("text").attr("x", x(4500)).attr("y", y(offsets[i] + 1.1))
    .attr("font-size", 15.4).attr("fill", "#000").style("white-space", "pre").attr("xml:space", "preserve").text(lab);
  const bb = t.node().getBBox();
  gStar.insert("rect", "text").attr("x", bb.x - 4).attr("y", bb.y - 3).attr("width", bb.width + 8).attr("height", bb.height + 6)
    .attr("fill", "#fff");
});

// ---- spectra ----
const line = d3.line().x(d => x(d[0])).y(d => y(d[1])).curve(d3.curveMonotoneX);
const gSpec = svg.append("g");
spectra.forEach((s, i) => {
  gSpec.append("path").datum(s.map(p => [p[0], p[1] + offsets[i]]))
    .attr("d", line).attr("fill", "none").attr("stroke", "#333").attr("stroke-width", 1.05).attr("stroke-linejoin", "round");
});

// ---- line labels ----
const gLab = svg.append("g").attr("font-size", 15.5);
topLineLabels.forEach((lab, i) => {
  const xm = x(d3.mean(topLineWaves[i])) + 1;
  gLab.append("text").attr("transform", `translate(${xm},147) rotate(-90)`)
    .attr("text-anchor", "start").attr("fill", kindColor[topLineKinds[i]]).text(lab);
});
botLineLabels.forEach((lab, i) => {
  if (!lab) return;
  const wm = botLabelAt[i] != null ? botLabelAt[i] : d3.mean(botLineWaves[i]);
  const xm = x(wm) + 1;
  gLab.append("text").attr("transform", `translate(${xm},1379) rotate(-90)`)
    .attr("text-anchor", "end").attr("fill", kindColor[botLineKinds[i]]).text(lab);
});
</script>
</body></html>
